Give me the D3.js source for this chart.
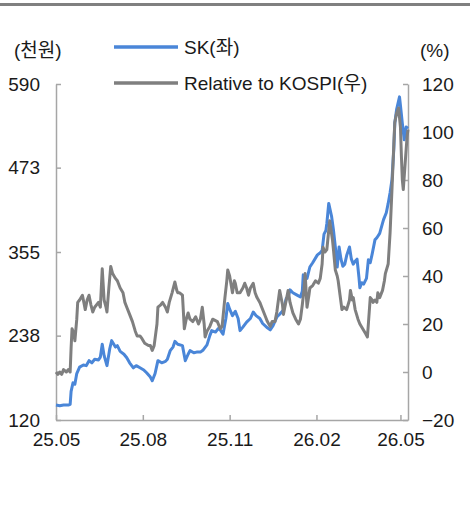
<!DOCTYPE html>
<html>
<head>
<meta charset="utf-8">
<script src="https://cdn.jsdelivr.net/npm/d3@7"></script>
<style>
  html, body { margin: 0; padding: 0; background: #fff; }
  svg { display: block; }
  text { font-family: "Liberation Sans", Arial, "Noto Sans CJK KR", sans-serif; font-size: 19px; fill: #1a1a1a; }
  .axis path, .axis line { stroke: #a6a6a6; stroke-width: 1.5; }
</style>
</head>
<body>
<svg id="chart" width="470" height="510"></svg>
<script>
// SK share price (thousand won, left axis)
const skDates = [
  "2025-05-01","2025-05-05","2025-05-09","2025-05-14","2025-05-16","2025-05-17","2025-05-19","2025-05-21","2025-05-23","2025-05-26",
  "2025-05-30","2025-06-02","2025-06-05","2025-06-08","2025-06-11","2025-06-15","2025-06-17","2025-06-19","2025-06-21","2025-06-24",
  "2025-06-27","2025-06-29","2025-07-03","2025-07-05","2025-07-08","2025-07-12","2025-07-15","2025-07-18","2025-07-22","2025-07-25",
  "2025-07-29","2025-08-02","2025-08-05","2025-08-09","2025-08-11","2025-08-14","2025-08-17","2025-08-21","2025-08-25","2025-08-27",
  "2025-08-30","2025-09-02","2025-09-04","2025-09-07","2025-09-12","2025-09-15","2025-09-18","2025-09-20","2025-09-24","2025-09-27",
  "2025-10-01","2025-10-04","2025-10-08","2025-10-11","2025-10-13","2025-10-17","2025-10-20","2025-10-22","2025-10-25","2025-10-28",
  "2025-10-30","2025-11-01","2025-11-04","2025-11-07","2025-11-10","2025-11-12","2025-11-15","2025-11-19","2025-11-23","2025-11-26",
  "2025-11-29","2025-12-03","2025-12-06","2025-12-11","2025-12-14","2025-12-17","2025-12-21","2025-12-24","2025-12-28","2025-12-31",
  "2026-01-02","2026-01-04","2026-01-07","2026-01-11","2026-01-15","2026-01-17","2026-01-18","2026-01-20","2026-01-22","2026-01-25",
  "2026-01-28","2026-02-02","2026-02-05","2026-02-07","2026-02-09","2026-02-11","2026-02-12","2026-02-14","2026-02-17","2026-02-19",
  "2026-02-21","2026-02-23","2026-02-25","2026-02-27","2026-03-01","2026-03-03","2026-03-05","2026-03-08","2026-03-10","2026-03-12",
  "2026-03-14","2026-03-16","2026-03-18","2026-03-19","2026-03-21","2026-03-23","2026-03-26","2026-03-28","2026-03-30","2026-04-01",
  "2026-04-04","2026-04-06","2026-04-09","2026-04-13","2026-04-16","2026-04-18","2026-04-20","2026-04-22","2026-04-24","2026-04-25",
  "2026-04-27","2026-04-30","2026-05-01","2026-05-03","2026-05-05","2026-05-07","2026-05-09"
];
const skValues = [
  141,140,141,141,142,160,172,170,185,194,
  197,196,203,200,205,204,208,226,210,196,
  220,231,222,224,216,212,207,200,193,196,
  193,190,186,180,175,185,203,200,202,205,
  217,222,230,226,224,203,212,217,214,215,
  215,218,225,238,245,243,248,246,240,262,
  283,275,266,272,262,245,250,257,262,271,
  266,262,255,249,246,252,264,268,274,290,
  292,302,298,295,292,300,323,320,318,334,
  340,351,354,357,380,385,395,423,405,386,
  362,334,362,345,335,338,350,362,345,338,
  342,345,320,305,312,310,318,344,340,352,
  372,375,381,400,410,423,438,456,500,535,
  555,572,560,535,512,530,528
];

// Relative to KOSPI (%, right axis)
const relDates = [
  "2025-05-01","2025-05-03","2025-05-05","2025-05-07","2025-05-09","2025-05-12","2025-05-14","2025-05-16","2025-05-17","2025-05-18",
  "2025-05-20","2025-05-21","2025-05-23","2025-05-24","2025-05-26","2025-05-29","2025-05-31","2025-06-01","2025-06-03","2025-06-05",
  "2025-06-07","2025-06-09","2025-06-11","2025-06-15","2025-06-17","2025-06-19","2025-06-21","2025-06-23","2025-06-24","2025-06-26",
  "2025-06-28","2025-06-30","2025-07-03","2025-07-05","2025-07-08","2025-07-11","2025-07-13","2025-07-15","2025-07-18","2025-07-21",
  "2025-07-24","2025-07-26","2025-07-29","2025-07-31","2025-08-03","2025-08-07","2025-08-09","2025-08-11","2025-08-13","2025-08-14",
  "2025-08-16","2025-08-17","2025-08-20","2025-08-22","2025-08-25","2025-08-27","2025-08-29","2025-09-01","2025-09-04","2025-09-06",
  "2025-09-07","2025-09-09","2025-09-12","2025-09-14","2025-09-16","2025-09-18","2025-09-20","2025-09-23","2025-09-26","2025-09-29",
  "2025-10-01","2025-10-03","2025-10-05","2025-10-06","2025-10-08","2025-10-11","2025-10-14","2025-10-19","2025-10-22","2025-10-24",
  "2025-10-26","2025-10-27","2025-10-29","2025-10-30","2025-11-01","2025-11-04","2025-11-06","2025-11-07","2025-11-09","2025-11-12",
  "2025-11-15","2025-11-17","2025-11-19","2025-11-21","2025-11-23","2025-11-26","2025-11-28","2025-11-30","2025-12-03","2025-12-05",
  "2025-12-09","2025-12-11","2025-12-14","2025-12-16","2025-12-19","2025-12-21","2025-12-24","2025-12-27","2025-12-28","2025-12-30",
  "2026-01-02","2026-01-04","2026-01-07","2026-01-10","2026-01-13","2026-01-15","2026-01-17","2026-01-19","2026-01-20","2026-01-22",
  "2026-01-24","2026-01-25","2026-01-28","2026-01-31","2026-02-03","2026-02-05","2026-02-07","2026-02-08","2026-02-10","2026-02-12",
  "2026-02-13","2026-02-15","2026-02-18","2026-02-19","2026-02-21","2026-02-23","2026-02-24","2026-02-26","2026-02-28","2026-03-02",
  "2026-03-05","2026-03-08","2026-03-09","2026-03-11","2026-03-12","2026-03-14","2026-03-17","2026-03-19","2026-03-22","2026-03-25",
  "2026-03-27","2026-03-28","2026-03-30","2026-04-01","2026-04-02","2026-04-04","2026-04-06","2026-04-07","2026-04-09","2026-04-12",
  "2026-04-14","2026-04-15","2026-04-18","2026-04-20","2026-04-22","2026-04-24","2026-04-25","2026-04-27","2026-04-29","2026-05-01",
  "2026-05-02","2026-05-03","2026-05-04","2026-05-06","2026-05-08","2026-05-09"
];
const relValues = [
  0,-1,0,-1,1,0,1,0,10,18,
  16,13,22,29,30,32,28,26,30,32,
  28,25,27,29,27,43,30,27,25,35,
  44,41,39,38,35,33,29,27,24,21,
  17,15,15,14,12,11,11,9,11,14,
  20,27,28,29,27,25,29,33,37.5,34,
  33,33,32,18,22,24.6,22,21,23,20,
  22,27,20,14.6,17,19,22,21,18,19,
  27,31,38,42.5,40,33,38,37,33,33,
  35,37,35,32,35,37,33,31,29,27,
  23,21,19,21,21,25,34,28,24,28,
  34,29,24.6,22,20,22,28,35,41,27,
  32,35,36,38,37,39,45,52,50,51,
  55,63,55,51,42.5,40,38,32,26,27,
  26,30,34,30,31,26,22,20,18,16,
  14.6,20,31,30,29,30,29,33,31,34,
  38,41,45,58,76,95,104,108,110,102,
  90,80,76,87,98,101
];

const xTickDates = ["2025-05-01","2025-08-01","2025-11-01","2026-02-01","2026-05-01"];
const xTickLabels = ["25.05","25.08","25.11","26.02","26.05"];
const leftTicks = [120, 238, 355, 473, 590];
const rightTicks = [-20, 0, 20, 40, 60, 80, 100, 120];
const rightTickLabels = ["\u221220","0","20","40","60","80","100","120"];

const seriesNames = ["SK(좌)", "Relative to KOSPI(우)"];
const colors = ["#4a86d8", "#7f7f7f"];

const W = 470, H = 510;
const margin = { top: 84, right: 62, bottom: 90, left: 56 };
const parse = d3.timeParse("%Y-%m-%d");

const svg = d3.select("#chart");

// top rule
svg.append("line")
  .attr("x1", 0).attr("x2", W).attr("y1", 4.5).attr("y2", 4.5)
  .attr("stroke", "#808080").attr("stroke-width", 3);

const x = d3.scaleTime()
  .domain([parse("2025-05-01"), parse("2026-05-09")])
  .range([margin.left, W - margin.right]);
const yL = d3.scaleLinear().domain([120, 590]).range([H - margin.bottom, margin.top]);
const yR = d3.scaleLinear().domain([-20, 120]).range([H - margin.bottom, margin.top]);

/* Axes */
const gx = svg.append("g")
  .attr("class", "axis")
  .attr("transform", `translate(0,${H - margin.bottom})`)
  .call(d3.axisBottom(x)
    .tickValues(xTickDates.map(parse))
    .tickFormat((d, i) => xTickLabels[i])
    .tickSizeInner(-5).tickSizeOuter(0).tickPadding(13));

const gl = svg.append("g")
  .attr("class", "axis")
  .attr("transform", `translate(${margin.left},0)`)
  .call(d3.axisLeft(yL)
    .tickValues(leftTicks)
    .tickSizeInner(-5).tickSizeOuter(0).tickPadding(16));

const gr = svg.append("g")
  .attr("class", "axis")
  .attr("transform", `translate(${W - margin.right},0)`)
  .call(d3.axisRight(yR)
    .tickValues(rightTicks)
    .tickFormat((d, i) => rightTickLabels[i])
    .tickSizeInner(-5).tickSizeOuter(0).tickPadding(14));

svg.selectAll(".axis text")
  .attr("font-family", null).attr("font-size", null)
  .style("fill", "#1a1a1a");
svg.selectAll(".axis").attr("font-family", null).attr("font-size", null);

/* Lines */
const skData = skDates.map((d, i) => ({ date: parse(d), value: skValues[i] }));
const relData = relDates.map((d, i) => ({ date: parse(d), value: relValues[i] }));

svg.append("path")
  .datum(skData)
  .attr("fill", "none")
  .attr("stroke", colors[0])
  .attr("stroke-width", 3)
  .attr("stroke-linejoin", "round")
  .attr("d", d3.line().x((d) => x(d.date)).y((d) => yL(d.value)));

svg.append("path")
  .datum(relData)
  .attr("fill", "none")
  .attr("stroke", colors[1])
  .attr("stroke-width", 3)
  .attr("stroke-linejoin", "round")
  .attr("d", d3.line().x((d) => x(d.date)).y((d) => yR(d.value)));

/* Units */
svg.append("text").attr("x", 14).attr("y", 50).attr("dy", "0.35em").text("(천원)");
svg.append("text").attr("x", 420).attr("y", 50).attr("dy", "0.35em").text("(%)");

/* Legend */
const legend = svg.append("g")
  .selectAll("g")
  .data(seriesNames)
  .join("g")
  .attr("transform", (d, i) => `translate(114,${47 + i * 36})`);

legend.append("line")
  .attr("x1", 0).attr("x2", 64)
  .attr("stroke", (d, i) => colors[i])
  .attr("stroke-width", 3.5);

legend.append("text")
  .attr("x", 70).attr("dy", "0.35em")
  .text((d) => d);
</script>
</body>
</html>
